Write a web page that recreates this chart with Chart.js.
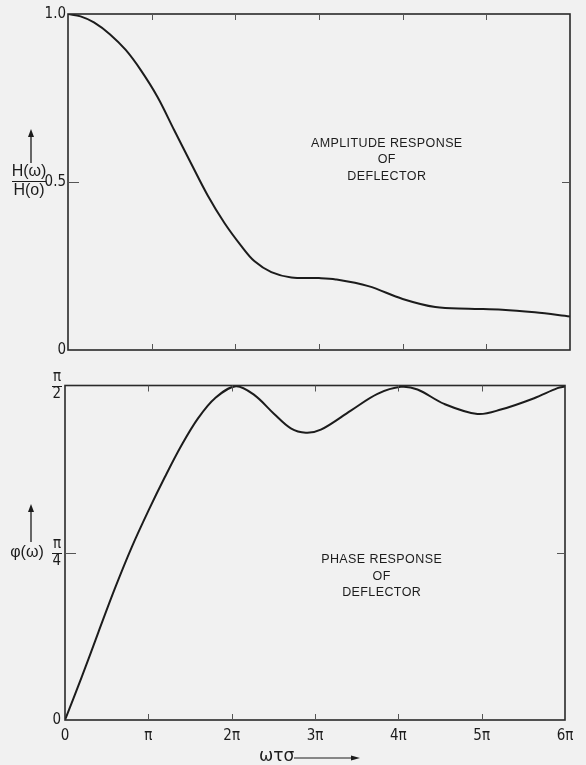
<!DOCTYPE html>
<html>
<head>
<meta charset="utf-8">
<script src="https://cdn.jsdelivr.net/npm/chart.js@4/dist/chart.umd.min.js"></script>
<style>
  body { margin: 0; background: #f1f1f1; width: 586px; height: 765px; overflow: hidden; position: relative; }
  canvas { position: absolute; left: 0; }
  #ampli { top: 0; }
  #phase { top: 365px; }
</style>
</head>
<body>
<canvas id="ampli" width="586" height="365"></canvas>
<canvas id="phase" width="586" height="400"></canvas>
<script>
// abscisse en multiples de pi (omega tau sigma / pi)
var xTicks = [0, 1, 2, 3, 4, 5, 6];

// reponse en amplitude H(w)/H(0)
var ampX = [0, 0.15, 0.31, 0.5, 0.69, 0.87, 1.07, 1.27, 1.47, 1.67, 1.87, 2.07, 2.23, 2.43, 2.67, 3.0, 3.2, 3.59, 4.0, 4.39, 4.79, 5.19, 5.58, 6.0];
var ampY = [1.0, 0.993, 0.975, 0.94, 0.893, 0.833, 0.753, 0.654, 0.556, 0.46, 0.378, 0.31, 0.264, 0.232, 0.216, 0.214, 0.21, 0.19, 0.152, 0.128, 0.123, 0.12, 0.112, 0.10];
var ampTicks = [0, 0.5, 1.0];

// reponse en phase, en unites de pi/2
var phaseX = [0, 0.2, 0.4, 0.6, 0.8, 1.0, 1.2, 1.4, 1.6, 1.8, 2.05, 2.27, 2.51, 2.71, 2.89, 3.07, 3.43, 3.75, 4.03, 4.23, 4.55, 4.95, 5.23, 5.63, 5.91, 6.0];
var phaseY = [0, 0.128, 0.262, 0.394, 0.516, 0.625, 0.727, 0.822, 0.903, 0.962, 0.998, 0.972, 0.915, 0.872, 0.859, 0.868, 0.925, 0.975, 0.996, 0.988, 0.945, 0.915, 0.928, 0.962, 0.992, 0.997];
var phaseTicks = [0, 0.5, 1];

var ink = "#1c1c1c";
var narrow = "'DejaVu Sans Condensed', 'Liberation Sans Narrow', sans-serif";

function xLabel(v) {
    if (v === 0) return "0";
    if (v === 1) return "π";
    return v + "π";
}

// ***************** cadre, graduations internes, textes *****************
var cadre = {
    id: "cadre",
    afterDraw: function (chart, args, opts) {
        var ctx = chart.ctx;
        var a = chart.chartArea;
        var sx = chart.scales.x, sy = chart.scales.y;
        ctx.save();
        ctx.strokeStyle = "#2a2a2a";
        ctx.lineWidth = 1.6;
        ctx.strokeRect(a.left, a.top, a.right - a.left, a.bottom - a.top);

        ctx.lineWidth = 1;
        ctx.strokeStyle = "#555";
        ctx.beginPath();
        xTicks.slice(1, -1).forEach(function (t) {
            var px = Math.round(sx.getPixelForValue(t)) + 0.5;
            ctx.moveTo(px, a.top); ctx.lineTo(px, a.top + 6);
            ctx.moveTo(px, a.bottom); ctx.lineTo(px, a.bottom - 6);
        });
        opts.yTicks.slice(1, -1).forEach(function (t) {
            var py = Math.round(sy.getPixelForValue(t)) + 0.5;
            ctx.moveTo(a.left, py); ctx.lineTo(a.left + 11, py);
            ctx.moveTo(a.right, py); ctx.lineTo(a.right - 8, py);
        });
        ctx.stroke();

        // barres de fraction pour pi/4, pi/2
        if (opts.fractions) {
            ctx.strokeStyle = ink;
            ctx.lineWidth = 1;
            ctx.beginPath();
            opts.yTicks.slice(1).forEach(function (t) {
                var py = Math.round(sy.getPixelForValue(t)) + 0.5;
                ctx.moveTo(a.left - 13, py); ctx.lineTo(a.left - 3, py);
            });
            ctx.stroke();
        }

        // note au centre
        ctx.fillStyle = ink;
        ctx.font = "12.5px 'Liberation Sans', sans-serif";
        ctx.letterSpacing = "0.4px";
        ctx.textAlign = "center";
        ctx.textBaseline = "middle";
        var nx = sx.getPixelForValue(opts.note.x);
        var ny = sy.getPixelForValue(opts.note.y);
        opts.note.lines.forEach(function (l, i) {
            ctx.fillText(l, nx, ny + i * 16.5);
        });
        ctx.letterSpacing = "0px";

        // titre de l'axe y avec fleche
        var ar = opts.arrow;
        ctx.strokeStyle = ink;
        ctx.lineWidth = 1.3;
        ctx.beginPath();
        ctx.moveTo(ar.x, ar.y2); ctx.lineTo(ar.x, ar.y1 + 4);
        ctx.stroke();
        ctx.beginPath();
        ctx.moveTo(ar.x, ar.y1); ctx.lineTo(ar.x - 3, ar.y1 + 8); ctx.lineTo(ar.x + 3, ar.y1 + 8);
        ctx.closePath(); ctx.fill();

        ctx.font = "16px 'Liberation Sans', sans-serif";
        opts.yTitle.forEach(function (t) {
            ctx.fillText(t.text, t.x, t.y);
        });
        if (opts.yTitleBar) {
            ctx.lineWidth = 1.2;
            ctx.beginPath();
            ctx.moveTo(opts.yTitleBar.x1, opts.yTitleBar.y); ctx.lineTo(opts.yTitleBar.x2, opts.yTitleBar.y);
            ctx.stroke();
        }

        // titre de l'axe x
        if (opts.xTitle) {
            var xt = opts.xTitle;
            ctx.font = "17px 'DejaVu Sans', sans-serif";
            ctx.textAlign = "left";
            ctx.fillText("ωτσ", xt.x, xt.y);
            ctx.lineWidth = 1;
            ctx.beginPath();
            ctx.moveTo(xt.a1, xt.y + 1); ctx.lineTo(xt.a2 - 6, xt.y + 1);
            ctx.stroke();
            ctx.beginPath();
            ctx.moveTo(xt.a2, xt.y + 1); ctx.lineTo(xt.a2 - 9, xt.y - 1.5); ctx.lineTo(xt.a2 - 9, xt.y + 3.5);
            ctx.closePath(); ctx.fill();
        }
        ctx.restore();
    }
};

function points(xs, ys) {
    return xs.map(function (x, i) { return { x: x, y: ys[i] }; });
}

// ***************** graphique amplitude *****************
new Chart(document.getElementById("ampli"), {
    type: "line",
    data: { datasets: [{ data: points(ampX, ampY), borderColor: ink, borderWidth: 2, pointRadius: 0, tension: 0.35, fill: false }] },
    options: {
        responsive: false, animation: false, devicePixelRatio: 1,
        layout: { padding: { left: 0, top: 14, right: 16, bottom: 0 } },
        scales: {
            x: {
                type: "linear", min: 0, max: 6,
                ticks: { display: false, stepSize: 1 },
                grid: { display: false, drawTicks: false }, border: { display: false },
                afterFit: function (s) { s.height = 15; }
            },
            y: {
                min: 0, max: 1,
                ticks: { stepSize: 0.5, padding: 2, color: ink, font: { family: narrow, size: 15 },
                    callback: function (v) { return v === 1 ? "1.0" : v === 0.5 ? "0.5" : v === 0 ? "0" : ""; } },
                grid: { display: false, drawTicks: false }, border: { display: false },
                afterFit: function (s) { s.width = 68; }
            }
        },
        plugins: {
            legend: { display: false }, tooltip: { enabled: false },
            cadre: {
                yTicks: ampTicks,
                note: { x: 3.81, y: 0.615, lines: ["AMPLITUDE RESPONSE", "OF", "DEFLECTOR"] },
                arrow: { x: 31, y1: 129, y2: 163 },
                yTitle: [{ text: "H(ω)", x: 29, y: 172 }, { text: "H(o)", x: 29, y: 191 }],
                yTitleBar: { x1: 12, x2: 46, y: 181.5 }
            }
        }
    },
    plugins: [cadre]
});

// ***************** graphique phase *****************
new Chart(document.getElementById("phase"), {
    type: "line",
    data: { datasets: [{ data: points(phaseX, phaseY), borderColor: ink, borderWidth: 2, pointRadius: 0, tension: 0.35, fill: false }] },
    options: {
        responsive: false, animation: false, devicePixelRatio: 1,
        layout: { padding: { left: 0, top: 19, right: 21, bottom: 0 } },
        scales: {
            x: {
                type: "linear", min: 0, max: 6,
                ticks: { stepSize: 1, padding: 7, color: ink, font: { family: narrow, size: 15 }, maxRotation: 0,
                    callback: function (v) { return xTicks.indexOf(v) >= 0 ? xLabel(v) : ""; } },
                grid: { display: false, drawTicks: false }, border: { display: false },
                afterFit: function (s) { s.height = 45; }
            },
            y: {
                min: 0, max: 1,
                ticks: { stepSize: 0.5, padding: 4, color: ink, font: { family: narrow, size: 15, lineHeight: 1.1 },
                    callback: function (v) { return v === 1 ? ["π", "2"] : v === 0.5 ? ["π", "4"] : v === 0 ? "0" : ""; } },
                grid: { display: false, drawTicks: false }, border: { display: false },
                afterFit: function (s) { s.width = 65; }
            }
        },
        plugins: {
            legend: { display: false }, tooltip: { enabled: false },
            cadre: {
                yTicks: phaseTicks,
                fractions: true,
                note: { x: 3.8, y: 0.479, lines: ["PHASE RESPONSE", "OF", "DEFLECTOR"] },
                arrow: { x: 31, y1: 139, y2: 177 },
                yTitle: [{ text: "φ(ω)", x: 27, y: 188 }],
                xTitle: { x: 259, y: 392, a1: 294, a2: 360 }
            }
        }
    },
    plugins: [cadre]
});
</script>
</body>
</html>
